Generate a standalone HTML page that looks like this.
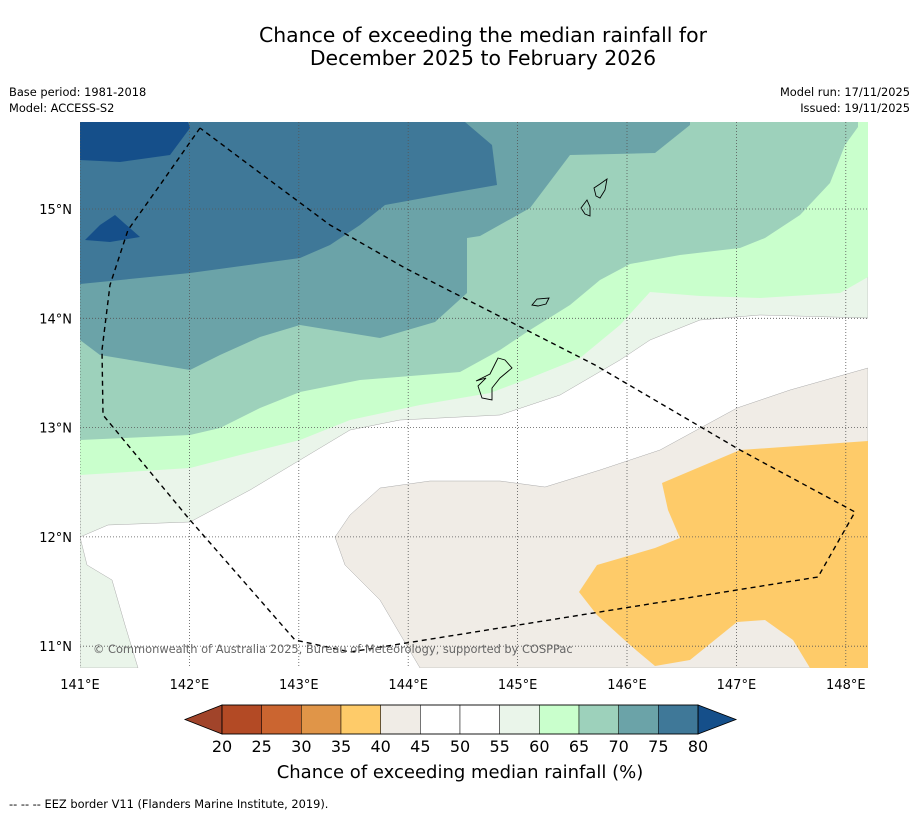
<!DOCTYPE html>
<html><head><meta charset="utf-8"><style>
body{margin:0;background:#fff;font-family:"DejaVu Sans",sans-serif}
svg{display:block}
</style></head><body>
<svg id="s" width="919" height="816" xmlns="http://www.w3.org/2000/svg" font-family="DejaVu Sans, sans-serif">
<rect width="919" height="816" fill="#fff"/>
<text x="483" y="42" font-size="20.4" text-anchor="middle">Chance of exceeding the median rainfall for</text>
<text x="483" y="65" font-size="20.4" text-anchor="middle">December 2025 to February 2026</text>
<text x="9" y="96" font-size="11.4">Base period: 1981-2018</text>
<text x="9" y="112" font-size="11.4">Model: ACCESS-S2</text>
<text x="910" y="96" font-size="11.4" text-anchor="end">Model run: 17/11/2025</text>
<text x="910" y="112" font-size="11.4" text-anchor="end">Issued: 19/11/2025</text>
<defs><clipPath id="mc"><rect x="80" y="122" width="788" height="546"/></clipPath></defs>
<g id="map" clip-path="url(#mc)"></g>
<text x="9" y="808" font-size="11.4">--  --  -- EEZ border V11 (Flanders Marine Institute, 2019).</text>
<text x="460" y="778" font-size="18" text-anchor="middle">Chance of exceeding median rainfall (%)</text>
</svg>
<script>
const levels=[20,25,30,35,40,45,50,55,60,65,70,75,80];
const colors=["#b34a25","#cb6530","#e09548","#fecb69","#f0ece6","#ffffff","#ffffff","#eaf5ea","#c9ffcc","#9dd1bb","#6ba3a8","#3f7898"];
const underColor="#a1442a", overColor="#154f8a";
const lonTicks=[141,142,143,144,145,146,147,148];
const latTicks=[11,12,13,14,15];
const X=lon=>80+(lon-141)*109.4;
const Y=lat=>209-(lat-15)*109.3;
const NS="http://www.w3.org/2000/svg";
const map=document.getElementById('map'), svg=document.getElementById('s');
function mk(t,a,p){const e=document.createElementNS(NS,t);for(const k in a)e.setAttribute(k,a[k]);(p||svg).appendChild(e);return e;}
function poly(pts,fill,name,stroke){const e=mk('polygon',{points:pts.map(p=>p.join(',')).join(' '),fill:fill,stroke:stroke||'none','stroke-width':0.5},map);

return e;}
poly([[80,537],[108,525],[190,522],[250,490],[300,460],[350,430],[400,420],[500,415],[560,395],[620,360],[650,340],[700,320],[760,315],[868,318],[868,122],[80,122]],"#eaf5ea","contour-55","#aaa");
poly([[80,537],[80,668],[138,668],[125,625],[112,580],[87,565]],"#eaf5ea","contour-55-sw","#aaa");
poly([[335,537],[350,515],[380,488],[430,481],[500,481],[545,487],[600,470],[660,450],[737,408],[790,390],[868,368],[868,668],[420,668],[380,600],[345,565]],"#f0ece6","contour-40-45","#aaa");
poly([[662,483],[740,450],[868,441],[868,668],[810,668],[793,640],[765,620],[737,622],[690,660],[655,666],[630,645],[597,615],[579,592],[597,565],[655,548],[680,538],[668,510]],"#fecb69","contour-35-40");
poly([[80,475],[190,468],[240,455],[300,440],[350,420],[420,405],[490,393],[530,378],[580,358],[620,325],[650,292],[700,296],[760,298],[840,293],[868,277],[868,122],[80,122]],"#c9ffcc","contour-60");
poly([[80,440],[190,435],[220,428],[260,408],[300,392],[360,380],[460,372],[500,350],[530,330],[570,305],[600,280],[630,264],[680,255],[740,248],[765,238],[800,215],[830,183],[845,145],[858,127],[858,122],[80,122]],"#9dd1bb","contour-65");
poly([[80,340],[100,355],[190,370],[220,355],[260,337],[300,325],[380,338],[435,322],[467,293],[467,238],[480,236],[530,208],[570,155],[655,153],[690,125],[690,122],[80,122]],"#6ba3a8","contour-70");
poly([[80,284],[190,273],[300,258],[330,245],[360,225],[385,205],[440,195],[497,185],[492,145],[465,122],[80,122]],"#3f7898","contour-75");
poly([[80,122],[80,160],[120,162],[170,155],[190,128],[188,122]],"#154f8a","contour-80");
poly([[85,240],[100,225],[115,215],[140,237],[110,242]],"#154f8a","contour-80-blob");
[[[600,184],[607,179],[605,190],[600,198],[596,196],[594,188]],[[587,200],[590,207],[590,216],[585,214],[581,208]],[[532,305],[537,299],[549,298],[546,304],[538,306]],[[498,358],[505,360],[512,368],[500,378],[492,388],[492,400],[482,398],[478,386],[486,378],[476,381],[490,374]]].forEach((p,i)=>{const e=mk('polygon',{points:p.map(q=>q.join(',')).join(' '),fill:'none',stroke:'#000','stroke-width':0.9},map);

});
lonTicks.forEach(l=>{const e=mk('line',{x1:X(l),x2:X(l),y1:122,y2:668,stroke:'#555','stroke-width':0.8,'stroke-dasharray':'1,2'},map);


const t=mk('text',{x:X(l),y:689,'font-size':13,'text-anchor':'middle'});t.textContent=l+'°E';

});
latTicks.forEach(l=>{const e=mk('line',{x1:80,x2:868,y1:Y(l),y2:Y(l),stroke:'#555','stroke-width':0.8,'stroke-dasharray':'1,2'},map);


const t=mk('text',{x:72,y:Y(l)+5,'font-size':13,'text-anchor':'end'});t.textContent=l+'°N';

});
const eez=mk('polyline',{points:"200,128 160,185 128,230 110,285 102,350 103,415 190,520 295,640 350,652 818,577 855,512 740,450 595,365 405,268 330,225 260,173 200,128",fill:'none',stroke:'#000','stroke-width':1.4,'stroke-dasharray':'5,4'},map);


const cp=mk('text',{x:93,y:653,'font-size':11.4,fill:'#666'},map);cp.textContent='© Commonwealth of Australia 2025, Bureau of Meteorology, supported by COSPPac';


const cx0=222,cx1=698,cy=705,ch=29,bw=(cx1-cx0)/colors.length;
const ut=mk('polygon',{points:`${cx0},${cy} ${cx0},${cy+ch} 185,${cy+ch/2}`,fill:underColor,stroke:'#000','stroke-width':0.8});


const ot=mk('polygon',{points:`${cx1},${cy} ${cx1},${cy+ch} 736,${cy+ch/2}`,fill:overColor,stroke:'#000','stroke-width':0.8});


colors.forEach((c,i)=>{const r=mk('rect',{x:cx0+i*bw,y:cy,width:bw,height:ch,fill:c,stroke:'#000','stroke-width':0.5});

});
mk('rect',{x:cx0,y:cy,width:cx1-cx0,height:ch,fill:'none',stroke:'#000','stroke-width':0.8});
levels.forEach((v,i)=>{const t=mk('text',{x:cx0+i*bw,y:752,'font-size':16,'text-anchor':'middle'});t.textContent=v;

});
</script>
</body></html>
